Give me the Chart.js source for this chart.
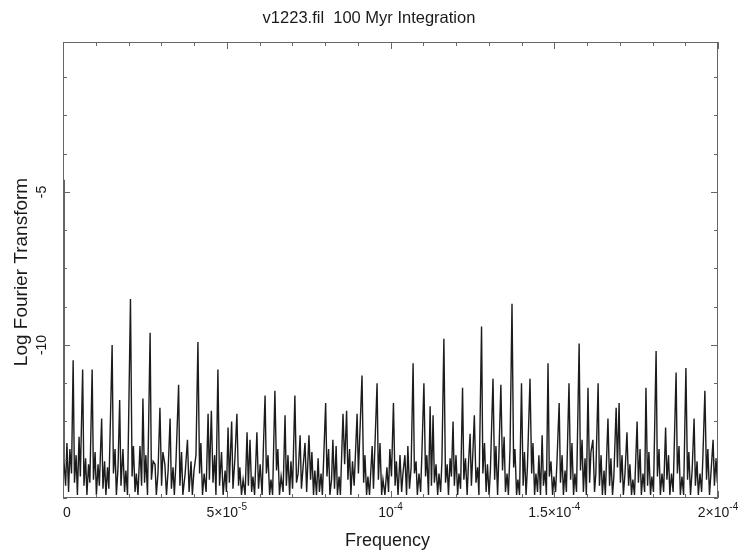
<!DOCTYPE html>
<html>
<head>
<meta charset="utf-8">
<script src="https://cdn.jsdelivr.net/npm/chart.js@4/dist/chart.umd.min.js"></script>
<style>
  html, body { margin: 0; padding: 0; background: #fff; }
  canvas { display: block; }
</style>
</head>
<body>
<canvas id="chart" width="738" height="557"></canvas>
<script>
// ===== DATA =====
// frequency in units of 10^-5, log of the Fourier transform
const freq = [
  0, 0.03, 0.08, 0.12, 0.17, 0.21, 0.26, 0.31, 0.35, 0.40, 0.44, 0.49, 0.53, 0.60, 0.64, 0.69, 0.73, 0.78, 0.82, 0.89,
  0.93, 0.98, 1.02, 1.07, 1.11, 1.18, 1.22, 1.27, 1.31, 1.36, 1.40, 1.50, 1.54, 1.59, 1.63, 1.68, 1.73, 1.77, 1.83, 1.88,
  1.92, 1.97, 2.06, 2.11, 2.15, 2.20, 2.24, 2.29, 2.35, 2.40, 2.44, 2.49, 2.53, 2.58, 2.66, 2.70, 2.75, 2.81, 2.85, 2.90,
  2.96, 3.01, 3.05, 3.11, 3.16, 3.21, 3.27, 3.31, 3.36, 3.40, 3.45, 3.53, 3.57, 3.62, 3.66, 3.73, 3.80, 3.85, 3.91, 3.95,
  4.00, 4.06, 4.12, 4.17, 4.21, 4.26, 4.31, 4.37, 4.43, 4.47, 4.53, 4.58, 4.63, 4.67, 4.73, 4.78, 4.84, 4.89, 4.95, 4.99,
  5.04, 5.08, 5.15, 5.19, 5.25, 5.31, 5.36, 5.40, 5.45, 5.50, 5.56, 5.62, 5.66, 5.71, 5.76, 5.80, 5.85, 5.92, 5.97, 6.02,
  6.08, 6.12, 6.17, 6.21, 6.26, 6.31, 6.35, 6.40, 6.47, 6.52, 6.56, 6.61, 6.66, 6.72, 6.78, 6.82, 6.87, 6.92, 6.96, 7.01,
  7.08, 7.13, 7.18, 7.24, 7.28, 7.33, 7.39, 7.44, 7.51, 7.56, 7.60, 7.65, 7.69, 7.74, 7.79, 7.83, 7.88, 7.92, 8.02, 8.06,
  8.11, 8.15, 8.20, 8.24, 8.29, 8.34, 8.38, 8.43, 8.47, 8.55, 8.60, 8.66, 8.70, 8.75, 8.79, 8.84, 8.89, 8.98, 9.02, 9.13,
  9.18, 9.22, 9.27, 9.31, 9.36, 9.44, 9.48, 9.59, 9.63, 9.68, 9.73, 9.77, 9.83, 9.89, 9.94, 9.98, 10.03, 10.09, 10.14, 10.18,
  10.23, 10.29, 10.34, 10.38, 10.44, 10.49, 10.53, 10.58, 10.63, 10.69, 10.73, 10.78, 10.82, 10.87, 10.92, 10.96, 11.02, 11.07, 11.11, 11.16,
  11.21, 11.25, 11.30, 11.34, 11.39, 11.44, 11.48, 11.53, 11.57, 11.63, 11.68, 11.73, 11.77, 11.82, 11.86, 11.91, 11.95, 12.00, 12.05, 12.09,
  12.14, 12.20, 12.24, 12.29, 12.34, 12.38, 12.43, 12.47, 12.52, 12.56, 12.61, 12.66, 12.70, 12.78, 12.82, 12.87, 12.92, 12.96, 13.01, 13.05,
  13.13, 13.18, 13.22, 13.27, 13.31, 13.37, 13.42, 13.47, 13.51, 13.56, 13.60, 13.65, 13.71, 13.76, 13.80, 13.85, 13.89, 13.94, 14.00, 14.05,
  14.09, 14.14, 14.18, 14.26, 14.31, 14.35, 14.40, 14.44, 14.49, 14.53, 14.58, 14.63, 14.67, 14.72, 14.76, 14.81, 14.85, 14.90, 14.95, 14.99,
  15.04, 15.08, 15.15, 15.19, 15.24, 15.28, 15.33, 15.37, 15.45, 15.50, 15.54, 15.59, 15.63, 15.68, 15.76, 15.80, 15.85, 15.89, 15.94, 15.98,
  16.03, 16.08, 16.12, 16.18, 16.23, 16.27, 16.34, 16.38, 16.43, 16.47, 16.52, 16.56, 16.64, 16.69, 16.73, 16.78, 16.82, 16.89, 16.93, 16.98,
  17.02, 17.07, 17.11, 17.16, 17.22, 17.27, 17.31, 17.36, 17.40, 17.45, 17.53, 17.57, 17.62, 17.66, 17.71, 17.76, 17.80, 17.85, 17.89, 17.94,
  17.98, 18.03, 18.11, 18.15, 18.20, 18.24, 18.29, 18.34, 18.40, 18.44, 18.49, 18.53, 18.58, 18.63, 18.72, 18.76, 18.81, 18.85, 18.90, 18.95,
  19.02, 19.07, 19.11, 19.16, 19.21, 19.27, 19.31, 19.36, 19.40, 19.45, 19.50, 19.54, 19.60, 19.65, 19.69, 19.74, 19.79, 19.85, 19.89, 19.94,
  19.98, 20.00
];
const logFT = [
  -4.6, -13.8, -14.6, -13.2, -14.8, -13.4, -14.2, -10.5, -14.5, -13.6, -14.9, -13.0, -14.3, -10.8, -14.6, -13.7, -14.9, -13.9, -14.5, -10.8,
  -14.4, -13.5, -14.9, -13.9, -14.6, -12.4, -14.7, -13.8, -14.9, -14.0, -14.7, -10.0, -14.2, -13.4, -14.9, -14.0, -11.8, -14.6, -13.4, -14.8,
  -14.1, -14.9, -8.5, -14.3, -13.3, -14.8, -14.2, -14.9, -13.3, -14.6, -11.75, -14.5, -13.6, -14.9, -9.6, -14.4, -13.8, -13.9, -14.9, -14.2,
  -12.05, -14.6, -13.5, -13.9, -14.9, -14.1, -12.4, -14.7, -14.0, -14.9, -13.8, -11.3, -14.6, -13.5, -14.9, -14.2, -13.1, -14.8, -13.8, -14.9,
  -14.1, -13.6, -9.9, -14.2, -13.2, -14.9, -14.2, -14.8, -12.25, -14.4, -12.15, -14.5, -13.6, -14.9, -10.8, -14.6, -13.5, -14.9, -14.1, -14.8,
  -12.7, -14.5, -12.5, -14.7, -13.7, -12.25, -14.6, -14.0, -14.9, -14.4, -14.9, -12.85, -14.6, -13.1, -14.8, -14.3, -14.9, -12.85, -14.7, -13.9,
  -14.9, -13.3, -11.65, -14.2, -13.6, -14.9, -14.4, -14.9, -11.5, -14.1, -13.4, -14.9, -14.3, -14.8, -12.3, -14.6, -13.6, -14.9, -13.8, -14.7,
  -11.65, -14.5, -14.2, -12.95, -14.7, -14.0, -13.2, -14.8, -12.95, -14.4, -13.5, -14.9, -14.1, -14.9, -13.7, -14.8, -14.2, -14.9, -11.9, -14.3,
  -13.4, -14.9, -14.4, -13.1, -14.7, -13.3, -14.9, -14.3, -14.9, -12.25, -13.9, -12.15, -14.4, -13.4, -14.9, -13.8, -14.6, -12.25, -14.2, -11.0,
  -14.5, -13.6, -14.9, -14.3, -14.9, -13.3, -14.7, -11.25, -14.4, -13.2, -14.9, -14.4, -14.9, -14.0, -14.8, -13.4, -14.3, -11.9, -14.6, -13.8,
  -14.9, -13.6, -14.8, -14.2, -13.6, -14.9, -13.3, -14.7, -14.0, -10.6, -14.2, -13.8, -14.9, -14.2, -14.8, -13.5, -11.25, -14.3, -13.6, -14.9,
  -12.0, -14.6, -12.3, -14.5, -13.9, -14.9, -14.2, -14.8, -13.8, -9.8, -14.5, -13.9, -14.9, -13.7, -14.3, -12.5, -14.6, -13.6, -14.9, -14.2,
  -14.7, -11.4, -14.4, -13.7, -14.9, -13.9, -12.9, -14.6, -13.4, -12.3, -14.5, -14.0, -14.9, -9.4, -14.2, -13.2, -14.8, -13.9, -14.9, -14.1,
  -11.1, -14.4, -13.3, -14.9, -13.6, -11.3, -14.1, -13.0, -14.8, -14.2, -14.9, -13.4, -8.65, -14.0, -13.4, -14.9, -14.4, -14.9, -11.25, -14.6,
  -13.5, -14.9, -14.0, -11.1, -14.2, -13.2, -14.9, -14.2, -14.8, -13.6, -14.9, -12.95, -14.6, -14.1, -14.9, -10.6, -14.3, -13.8, -14.9, -14.3,
  -14.8, -13.9, -11.9, -14.5, -13.6, -14.9, -14.1, -14.8, -11.25, -14.4, -13.2, -14.9, -14.2, -14.8, -9.95, -14.1, -13.1, -14.8, -13.7, -14.9,
  -11.4, -14.5, -13.5, -13.1, -14.8, -14.2, -11.25, -14.6, -13.6, -14.9, -14.1, -14.9, -12.4, -14.6, -13.7, -14.9, -14.3, -12.05, -14.0, -11.9,
  -14.5, -13.6, -14.9, -14.2, -12.85, -14.6, -13.9, -14.9, -14.4, -14.9, -12.5, -14.5, -13.4, -14.9, -14.2, -14.8, -11.4, -14.6, -13.5, -14.9,
  -14.3, -14.8, -10.2, -14.3, -13.4, -14.9, -14.2, -14.8, -12.7, -14.4, -13.6, -14.9, -14.2, -14.8, -10.9, -14.2, -13.3, -14.9, -14.3, -14.9,
  -10.75, -14.4, -13.5, -14.9, -14.1, -12.4, -14.6, -13.8, -14.9, -14.2, -14.8, -13.6, -11.5, -14.4, -13.4, -14.9, -14.1, -13.1, -14.6, -13.7,
  -14.5, -14.2
];

// axis ticks (x in units of 10^-5)
const xTickValues = [0, 1, 2, 3, 4, 5, 6, 7, 8, 9, 10, 11, 12, 13, 14, 15, 16, 17, 18, 19, 20];
const xMajorTicks = [0, 5, 10, 15, 20];
const xTickBase = ['0', '5×10', '10', '1.5×10', '2×10'];
const xTickExp = ['', '-5', '-4', '-4', '-4'];
const yTickValues = [-15, -13.75, -12.5, -11.25, -10, -8.75, -7.5, -6.25, -5, -3.75, -2.5, -1.25];
const yMajorTicks = [-5, -10];
const yTickLabels = ['-5', '-10'];

const chartTitle = 'v1223.fil  100 Myr Integration';
const xTitle = 'Frequency';
const yTitle = 'Log Fourier Transform';

// ===== FRAME, TICKS AND TEXT =====
const FONT = '"Liberation Sans", Arial, Helvetica, sans-serif';
const framePlugin = {
    id: 'frame',
    afterDraw(chart) {
        const { ctx, chartArea: a, scales } = chart;
        const xs = scales.x, ys = scales.y;
        ctx.save();

        // box
        ctx.strokeStyle = '#666';
        ctx.lineWidth = 1;
        ctx.strokeRect(a.left + 0.5, a.top + 0.5, a.right - a.left - 1, a.bottom - a.top - 1);

        // inward ticks on all four sides
        ctx.beginPath();
        xTickValues.forEach(v => {
            const px = Math.round(xs.getPixelForValue(v)) + 0.5;
            const len = xMajorTicks.includes(v) ? 7 : 4;
            ctx.moveTo(px, a.bottom); ctx.lineTo(px, a.bottom - len);
            ctx.moveTo(px, a.top); ctx.lineTo(px, a.top + len);
        });
        yTickValues.forEach(v => {
            const py = Math.round(ys.getPixelForValue(v)) + 0.5;
            const len = yMajorTicks.includes(v) ? 7 : 4;
            ctx.moveTo(a.left, py); ctx.lineTo(a.left + len, py);
            ctx.moveTo(a.right, py); ctx.lineTo(a.right - len, py);
        });
        ctx.stroke();

        ctx.fillStyle = '#1a1a1a';
        ctx.textBaseline = 'middle';

        // title
        ctx.font = '16.5px ' + FONT;
        ctx.textAlign = 'center';
        ctx.fillText(chartTitle, chart.width / 2, 18);

        // x tick labels with raised exponents
        xMajorTicks.forEach((v, i) => {
            const px = xs.getPixelForValue(v);
            ctx.font = '14px ' + FONT;
            const wb = ctx.measureText(xTickBase[i]).width;
            ctx.font = '10px ' + FONT;
            const we = ctx.measureText(xTickExp[i]).width;
            let x0 = px - (wb + we) / 2;
            if (i === 0) x0 = px;
            ctx.textAlign = 'left';
            ctx.font = '14px ' + FONT;
            ctx.fillText(xTickBase[i], x0, a.bottom + 15);
            ctx.font = '10px ' + FONT;
            ctx.fillText(xTickExp[i], x0 + wb, a.bottom + 9);
        });

        // x title
        ctx.textAlign = 'center';
        ctx.font = '18px ' + FONT;
        ctx.fillText(xTitle, (a.left + a.right) / 2 - 3, a.bottom + 43);

        // rotated y tick labels
        ctx.font = '14px ' + FONT;
        yMajorTicks.forEach((v, i) => {
            const py = ys.getPixelForValue(v);
            ctx.save();
            ctx.translate(a.left - 21, py);
            ctx.rotate(-Math.PI / 2);
            ctx.fillText(yTickLabels[i], 0, 0);
            ctx.restore();
        });

        // y title
        ctx.save();
        ctx.translate(22, (a.top + a.bottom) / 2 + 2);
        ctx.rotate(-Math.PI / 2);
        ctx.font = '19px ' + FONT;
        ctx.fillText(yTitle, 0, 0);
        ctx.restore();

        ctx.restore();
    }
};

new Chart(document.getElementById('chart'), {
    type: 'scatter',
    data: {
        datasets: [{
            data: freq.map((f, i) => ({ x: f, y: logFT[i] })),
            showLine: true,
            borderColor: '#1c1c1c',
            borderWidth: 1.4,
            pointRadius: 0,
            tension: 0
        }]
    },
    options: {
        responsive: false,
        animation: false,
        layout: { padding: { left: 63, right: 20, top: 42, bottom: 59 } },
        plugins: {
            legend: { display: false },
            tooltip: { enabled: false },
            title: { display: false }
        },
        scales: {
            x: { type: 'linear', min: 0, max: 20, display: false },
            y: { type: 'linear', min: -15, max: -0.1, display: false }
        }
    },
    plugins: [framePlugin]
});
</script>
</body>
</html>
